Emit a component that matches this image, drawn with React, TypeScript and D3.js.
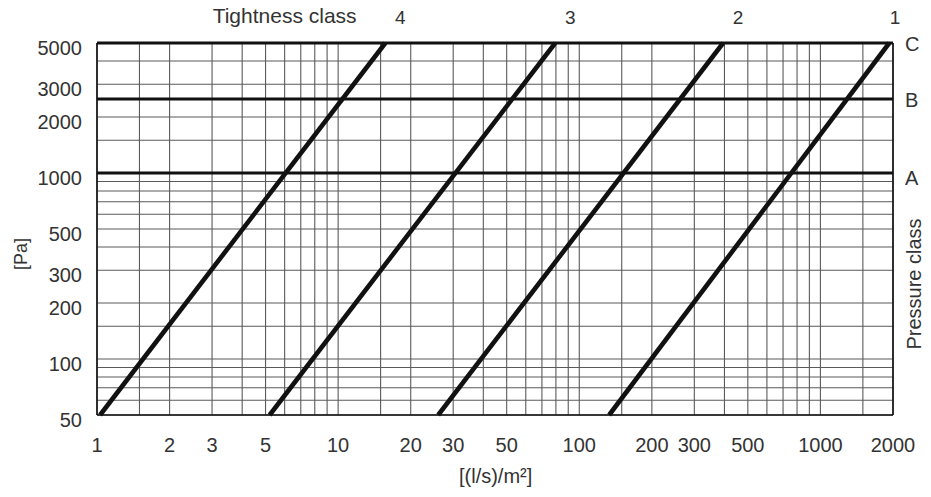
import { useMemo } from "react";
import * as d3 from "d3";

const WIDTH = 931;
const HEIGHT = 497;
const MARGIN = { top: 43, right: 38, bottom: 82, left: 97 };

// axis ticks
const xTickLabels = [1, 2, 3, 5, 10, 20, 30, 50, 100, 200, 300, 500, 1000, 2000];
const yTickLabels = [50, 100, 200, 300, 500, 1000, 2000, 3000, 5000];

// grid lines of the log paper
const xGrid = [
  1, 1.5, 2, 3, 4, 5, 6, 7, 8, 9,
  10, 15, 20, 30, 40, 50, 60, 70, 80, 90,
  100, 150, 200, 300, 400, 500, 600, 700, 800, 900,
  1000, 1500, 2000,
];
const yGrid = [
  50, 60, 70, 80, 90, 100, 150, 200, 300, 400, 500,
  600, 700, 800, 900, 1000, 1500, 2000, 3000, 4000, 5000,
];

// pressure classes (horizontal lines)
const pressureClasses = ["A", "B", "C"];
const pressureValues = [1000, 2500, 5000];

// tightness classes (diagonal lines), leakage at 50 Pa and 5000 Pa
const tightnessClasses = ["4", "3", "2", "1"];
const leakageAt50 = [1.03, 5.2, 26, 133];
const leakageAt5000 = [15.7, 79.5, 395, 1930];
const pressureEnds = [50, 5000];

const FONT = "'Liberation Sans', Arial, Helvetica, sans-serif";
const TEXT = "#333";

const App = () => {
  const boundsWidth = WIDTH - MARGIN.left - MARGIN.right;
  const boundsHeight = HEIGHT - MARGIN.top - MARGIN.bottom;

  const xScale = useMemo(
    () => d3.scaleLog().domain([1, 2000]).range([0, boundsWidth]),
    [boundsWidth]
  );
  const yScale = useMemo(
    () => d3.scaleLog().domain([50, 5000]).range([boundsHeight, 0]),
    [boundsHeight]
  );

  const line = d3
    .line<[number, number]>()
    .x((d) => xScale(d[0]))
    .y((d) => yScale(d[1]));

  return (
    <div style={{ position: "absolute", left: 0, top: 0 }}>
      <svg width={WIDTH} height={HEIGHT} style={{ display: "block", background: "#fff" }}>
        <g transform={`translate(${MARGIN.left},${MARGIN.top})`} fontFamily={FONT}>
          {/* grid */}
          {xGrid.map((v, i) => (
            <line key={"xg" + i} x1={xScale(v)} x2={xScale(v)} y1={0} y2={boundsHeight}
              stroke="#5a5a5a" strokeWidth={1.1} />
          ))}
          {yGrid.map((v, i) => (
            <line key={"yg" + i} x1={0} x2={boundsWidth} y1={yScale(v)} y2={yScale(v)}
              stroke="#5a5a5a" strokeWidth={1.1} />
          ))}

          {/* frame */}
          <line x1={0} x2={0} y1={0} y2={boundsHeight} stroke="#111" strokeWidth={1.6} />
          <line x1={boundsWidth} x2={boundsWidth} y1={0} y2={boundsHeight} stroke="#111" strokeWidth={1.6} />
          <line x1={0} x2={boundsWidth} y1={boundsHeight} y2={boundsHeight} stroke="#111" strokeWidth={1.6} />

          {/* pressure classes */}
          {pressureValues.map((v, i) => (
            <g key={"pc" + i}>
              <line x1={0} x2={boundsWidth} y1={yScale(v)} y2={yScale(v)} stroke="#111" strokeWidth={3.2} />
              <text x={boundsWidth + 12} y={yScale(v) + (i === 0 ? 12 : 8)} fontSize={20} fill={TEXT}>
                {pressureClasses[i]}
              </text>
            </g>
          ))}

          {/* tightness classes */}
          {tightnessClasses.map((c, i) => {
            const pts: [number, number][] = [
              [leakageAt50[i], pressureEnds[0]],
              [leakageAt5000[i], pressureEnds[1]],
            ];
            return (
              <g key={"tc" + i}>
                <path d={line(pts) || ""} stroke="#111" strokeWidth={4.6} fill="none" />
                <text
                  x={Math.min(xScale(leakageAt5000[i]) + 15, boundsWidth + 2)}
                  y={-19}
                  textAnchor="middle"
                  fontSize={19}
                  fill={TEXT}
                >
                  {c}
                </text>
              </g>
            );
          })}

          <text x={xScale(6)} y={-20} textAnchor="middle" fontSize={21} fill={TEXT}>
            Tightness class
          </text>

          {/* y ticks */}
          {yTickLabels.map((v, i) => (
            <text key={"yt" + i} x={-15} y={yScale(v) + 12} textAnchor="end" fontSize={20} fill={TEXT}>
              {v}
            </text>
          ))}

          {/* x ticks */}
          {xTickLabels.map((v, i) => (
            <text key={"xt" + i} x={xScale(v)} y={boundsHeight + 37} textAnchor="middle" fontSize={20} fill={TEXT}>
              {v}
            </text>
          ))}

          <text x={xScale(45)} y={boundsHeight + 68} textAnchor="middle" fontSize={20} fill={TEXT}>
            [(l/s)/m²]
          </text>
          <text transform={`translate(${-70},${211}) rotate(-90)`} textAnchor="middle" fontSize={18} fill={TEXT}>
            [Pa]
          </text>
          <text transform={`translate(${boundsWidth + 28},${241}) rotate(-90)`} textAnchor="middle" fontSize={20} fill={TEXT}>
            Pressure class
          </text>
        </g>
      </svg>
    </div>
  );
};

export default App;
